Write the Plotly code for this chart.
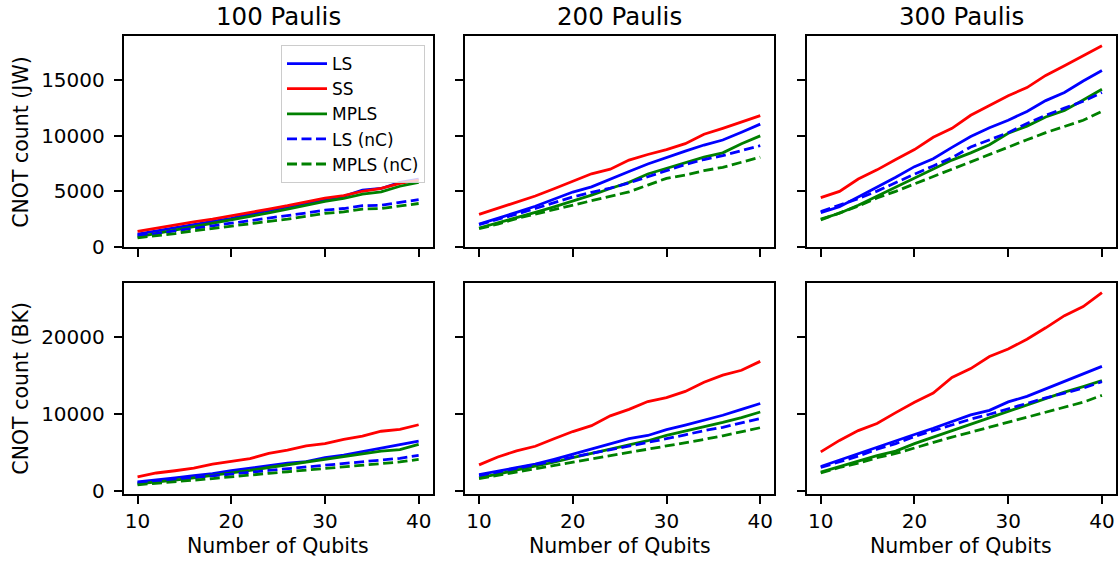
import plotly.graph_objects as go

qubits = [10, 12, 14, 16, 18, 20, 22, 24, 26, 28, 30, 32, 34, 36, 38, 40]

# ---- JW, 100 Paulis ----
jw100_ls = [1150, 1450, 1750, 2000, 2300, 2570, 2950, 3250, 3600, 3950, 4270, 4550, 5100, 5250, 5800, 6080]
jw100_ss = [1400, 1700, 1950, 2250, 2500, 2780, 3100, 3400, 3700, 4050, 4390, 4600, 5000, 5250, 5700, 6000]
jw100_mpls = [900, 1200, 1500, 1800, 2100, 2430, 2750, 3050, 3400, 3750, 4090, 4350, 4750, 4950, 5450, 5800]
jw100_ls_nc = [1050, 1200, 1450, 1650, 1900, 2130, 2350, 2600, 2800, 3050, 3300, 3450, 3700, 3750, 4000, 4240]
jw100_mpls_nc = [820, 1000, 1200, 1450, 1650, 1900, 2100, 2300, 2500, 2750, 3010, 3150, 3400, 3450, 3650, 3900]

# ---- JW, 200 Paulis ----
jw200_ls = [2050, 2550, 3100, 3650, 4300, 4930, 5400, 6050, 6770, 7450, 8050, 8600, 9150, 9600, 10300, 11030]
jw200_ss = [2930, 3490, 4020, 4570, 5220, 5920, 6570, 6980, 7800, 8300, 8740, 9270, 10120, 10650, 11230, 11790]
jw200_mpls = [1700, 2150, 2650, 3100, 3600, 4100, 4650, 5250, 5800, 6550, 7040, 7570, 8060, 8450, 9270, 9970]
jw200_ls_nc = [2000, 2450, 2950, 3450, 3950, 4490, 4900, 5280, 5750, 6300, 6900, 7400, 7850, 8200, 8650, 9090]
jw200_mpls_nc = [1640, 2050, 2550, 2950, 3350, 3700, 4150, 4550, 4950, 5550, 6160, 6450, 6850, 7150, 7600, 8060]

# ---- JW, 300 Paulis ----
jw300_ls = [3080, 3610, 4490, 5370, 6250, 7210, 7920, 8940, 9910, 10700, 11380, 12170, 13140, 13870, 14900, 15840]
jw300_ss = [4430, 4990, 6100, 6920, 7860, 8740, 9850, 10650, 11820, 12700, 13580, 14310, 15400, 16280, 17160, 18060]
jw300_mpls = [2490, 3020, 3750, 4550, 5370, 6160, 6980, 7800, 8450, 9180, 10210, 10850, 11670, 12260, 13200, 14160]
jw300_ls_nc = [3170, 3750, 4340, 5010, 5810, 6540, 7270, 8010, 8970, 9620, 10260, 11090, 11820, 12460, 13080, 13870]
jw300_mpls_nc = [2430, 3020, 3670, 4400, 4990, 5660, 6330, 6980, 7620, 8300, 8970, 9620, 10260, 10790, 11380, 12170]

# ---- BK, 100 Paulis ----
bk100_ls = [1180, 1400, 1690, 1990, 2240, 2620, 2960, 3260, 3590, 3810, 4310, 4650, 5070, 5580, 6000, 6470]
bk100_ss = [1820, 2330, 2620, 2960, 3470, 3810, 4190, 4860, 5290, 5840, 6130, 6680, 7100, 7740, 7990, 8580]
bk100_mpls = [930, 1140, 1400, 1690, 1990, 2330, 2660, 3040, 3380, 3720, 4100, 4440, 4780, 5160, 5370, 6050]
bk100_ls_nc = [1060, 1270, 1480, 1690, 1950, 2200, 2410, 2660, 2880, 3090, 3300, 3510, 3720, 3970, 4230, 4610]
bk100_mpls_nc = [800, 970, 1180, 1400, 1610, 1860, 2070, 2280, 2490, 2710, 2920, 3130, 3340, 3510, 3760, 4100]

# ---- BK, 200 Paulis ----
bk200_ls = [2110, 2540, 3040, 3470, 4100, 4780, 5410, 6130, 6770, 7190, 7950, 8540, 9180, 9810, 10570, 11330]
bk200_ss = [3380, 4400, 5200, 5790, 6770, 7700, 8460, 9730, 10570, 11590, 12090, 12900, 14080, 15010, 15640, 16790]
bk200_mpls = [1690, 2200, 2620, 3130, 3720, 4310, 4860, 5410, 5920, 6510, 7190, 7740, 8330, 8880, 9510, 10230]
bk200_ls_nc = [1990, 2450, 2880, 3380, 3890, 4400, 4860, 5370, 5840, 6220, 6770, 7270, 7820, 8250, 8800, 9390]
bk200_mpls_nc = [1610, 2030, 2410, 2830, 3260, 3680, 4100, 4520, 4950, 5370, 5840, 6260, 6680, 7150, 7650, 8200]

# ---- BK, 300 Paulis ----
bk300_ls = [3170, 4020, 4780, 5620, 6470, 7320, 8120, 9010, 9850, 10440, 11540, 12260, 13230, 14160, 15140, 16150]
bk300_ss = [5070, 6550, 7820, 8750, 10150, 11500, 12680, 14710, 15860, 17420, 18390, 19660, 21140, 22710, 23890, 25710]
bk300_mpls = [2450, 3170, 3810, 4570, 5160, 6130, 6980, 7820, 8670, 9510, 10360, 11210, 12050, 12810, 13530, 14290]
bk300_ls_nc = [3040, 3810, 4520, 5410, 6130, 7060, 7820, 8540, 9300, 9940, 10660, 11420, 12050, 12680, 13320, 14160]
bk300_mpls_nc = [2330, 3040, 3590, 4310, 4860, 5580, 6340, 6980, 7610, 8250, 8880, 9510, 10150, 10780, 11500, 12390]

series_names = ["LS", "SS", "MPLS", "LS (nC)", "MPLS (nC)"]
col_titles = ["100 Paulis", "200 Paulis", "300 Paulis"]
row_labels = ["CNOT count (JW)", "CNOT count (BK)"]
x_ticks = [10, 20, 30, 40]
y_ticks_rows = [[0, 5000, 10000, 15000], [0, 10000, 20000]]

panels = [
    [jw100_ls, jw100_ss, jw100_mpls, jw100_ls_nc, jw100_mpls_nc],
    [jw200_ls, jw200_ss, jw200_mpls, jw200_ls_nc, jw200_mpls_nc],
    [jw300_ls, jw300_ss, jw300_mpls, jw300_ls_nc, jw300_mpls_nc],
    [bk100_ls, bk100_ss, bk100_mpls, bk100_ls_nc, bk100_mpls_nc],
    [bk200_ls, bk200_ss, bk200_mpls, bk200_ls_nc, bk200_mpls_nc],
    [bk300_ls, bk300_ss, bk300_mpls, bk300_ls_nc, bk300_mpls_nc],
]

styles = [
    dict(color="#0000ff", dash="solid"),
    dict(color="#ff0000", dash="solid"),
    dict(color="#008000", dash="solid"),
    dict(color="#0000ff", dash="10px,4.5px"),
    dict(color="#008000", dash="10px,4.5px"),
]

W, H = 1119, 572
col_px = [(123.5, 432.7), (465.0, 774.3), (806.7, 1116.0)]
row_px = [(37.0, 252.7), (289.0, 505.0)]
FONT = "DejaVu Sans"

fig = go.Figure()

# y ranges per row (matplotlib-like 5% margins)
row_ranges = []
for r in range(2):
    vals = [v for p in panels[r * 3:(r + 1) * 3] for s in p for v in s]
    lo, hi = min(vals), max(vals)
    pad = 0.05 * (hi - lo)
    row_ranges.append([lo - pad, hi + pad])

layout = {}
for i, pdata in enumerate(panels):
    r, c = divmod(i, 3)
    suffix = "" if i == 0 else str(i + 1)
    for k, (name, ys) in enumerate(zip(series_names, pdata)):
        fig.add_trace(go.Scatter(
            x=qubits, y=ys, mode="lines", name=name,
            line=dict(color=styles[k]["color"], dash=styles[k]["dash"], width=2.8),
            showlegend=(i == 0), legendrank=k + 1,
            xaxis="x" + suffix, yaxis="y" + suffix,
        ))
    x0, x1 = col_px[c]
    y0, y1 = row_px[r]
    layout["xaxis" + suffix] = dict(
        domain=[x0 / W, x1 / W], anchor="y" + suffix, range=[8.5, 41.5],
        tickvals=x_ticks, showticklabels=(r == 1), ticks="outside", ticklen=8,
        tickwidth=1.5, tickcolor="black", showline=True, linecolor="black",
        linewidth=1.5, mirror=True, showgrid=False, zeroline=False,
        tickfont=dict(family=FONT, size=20, color="black"),
    )
    layout["yaxis" + suffix] = dict(
        domain=[1 - y1 / H, 1 - y0 / H], anchor="x" + suffix, range=row_ranges[r],
        tickvals=y_ticks_rows[r], tickformat="d", showticklabels=(c == 0), ticks="outside",
        ticklen=8, tickwidth=1.5, tickcolor="black", showline=True, linecolor="black",
        linewidth=1.5, mirror=True, showgrid=False, zeroline=False,
        tickfont=dict(family=FONT, size=20, color="black"),
        ticklabelstandoff=5,
    )

annotations = []
for c, t in enumerate(col_titles):
    x0, x1 = col_px[c]
    annotations.append(dict(text=t, x=(x0 + x1) / 2 / W, y=1 - 17 / H, xref="paper", yref="paper",
                            xanchor="center", yanchor="middle", showarrow=False,
                            font=dict(family=FONT, size=24.5, color="black")))
    annotations.append(dict(text="Number of Qubits", x=(x0 + x1) / 2 / W, y=1 - 558 / H,
                            xref="paper", yref="paper", xanchor="center", yanchor="middle",
                            showarrow=False, font=dict(family=FONT, size=20.5, color="black")))
for r, t in enumerate(row_labels):
    y0, y1 = row_px[r]
    annotations.append(dict(text=t, x=21 / W, y=1 - (y0 + y1) / 2 / H, xref="paper", yref="paper",
                            xanchor="center", yanchor="middle", textangle=-90, showarrow=False,
                            font=dict(family=FONT, size=20.5, color="black")))

fig.update_layout(
    width=W, height=H, margin=dict(l=0, r=0, t=0, b=0),
    paper_bgcolor="white", plot_bgcolor="white",
    font=dict(family=FONT, color="black"),
    annotations=annotations,
    legend=dict(x=425 / W, y=1 - 46 / H, xanchor="right", yanchor="top",
                bgcolor="rgba(255,255,255,0.8)", bordercolor="#cccccc", borderwidth=1,
                font=dict(family=FONT, size=17, color="black"), tracegroupgap=0,
                itemwidth=40),
    **layout,
)

fig.write_html("out.html", config={"displayModeBar": False},
               post_script="document.body.style.margin='0';document.body.style.padding='0';")
